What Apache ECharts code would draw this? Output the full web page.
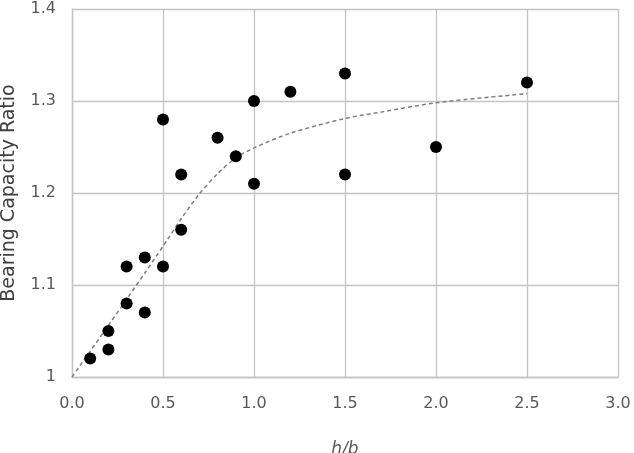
<!DOCTYPE html>
<html>
<head>
<meta charset="utf-8">
<script src="https://cdn.jsdelivr.net/npm/echarts@6/dist/echarts.min.js"></script>
<style>
  html, body { margin: 0; padding: 0; background: #fff; }
  #chart { width: 634px; height: 453px; }
</style>
</head>
<body>
<div id="chart"></div>
<script>
// measured points: h/b vs bearing capacity ratio
const hbValues = [0.1, 0.2, 0.2, 0.3, 0.3, 0.4, 0.4, 0.5, 0.5, 0.6, 0.6, 0.8, 0.9, 1.0, 1.0, 1.2, 1.5, 1.5, 2.0, 2.5];
const ratioValues = [1.02, 1.03, 1.05, 1.08, 1.12, 1.07, 1.13, 1.12, 1.28, 1.16, 1.22, 1.26, 1.24, 1.30, 1.21, 1.31, 1.33, 1.22, 1.25, 1.32];

// dashed trend line
const trendX = [0, 0.2, 0.4, 0.52, 0.6, 0.7, 0.8, 0.9, 1.0, 1.2, 1.5, 1.7, 2.0, 2.5];
const trendY = [1.0, 1.056, 1.113, 1.148, 1.172, 1.199, 1.221, 1.238, 1.249, 1.265, 1.281, 1.288, 1.298, 1.308];

const xTickLabels = ["0.0", "0.5", "1.0", "1.5", "2.0", "2.5", "3.0"];
const yTickLabels = ["1", "1.1", "1.2", "1.3", "1.4"];

const chart = echarts.init(document.getElementById("chart"));

const labelFont = {
  color: "#595959",
  fontFamily: "DejaVu Sans",
  fontSize: 16,
};
const gridLine = { color: "#c4c4c4", width: 1.3 };

chart.setOption({
  animation: false,
  grid: {
    left: 72, right: 16, top: 9, bottom: 76,
    containLabel: false,
    outerBoundsMode: "none",
  },
  xAxis: {
    type: "value",
    min: 0,
    max: 3,
    interval: 0.5,
    name: "h/b",
    nameLocation: "middle",
    nameGap: 64,
    nameTextStyle: {
      color: "#595959",
      fontFamily: "DejaVu Sans",
      fontSize: 17,
      fontStyle: "italic",
    },
    axisLine: { show: true, lineStyle: gridLine },
    axisTick: { show: false },
    axisLabel: Object.assign({}, labelFont, {
      margin: 19,
      formatter: (v) => xTickLabels[Math.round(v / 0.5)],
    }),
    splitLine: { show: true, lineStyle: gridLine },
  },
  yAxis: {
    type: "value",
    min: 1,
    max: 1.4,
    interval: 0.1,
    name: "Bearing Capacity Ratio",
    nameLocation: "middle",
    nameGap: 53,
    nameTextStyle: {
      color: "#404040",
      fontFamily: "DejaVu Sans",
      fontSize: 19,
    },
    axisLine: { show: true, lineStyle: gridLine },
    axisTick: { show: false },
    axisLabel: Object.assign({}, labelFont, {
      margin: 16,
      formatter: (v) => yTickLabels[Math.round((v - 1) / 0.1)],
    }),
    splitLine: { show: true, lineStyle: gridLine },
  },
  series: [
    {
      type: "line",
      data: trendX.map((x, i) => [x, trendY[i]]),
      smooth: 0.3,
      showSymbol: false,
      lineStyle: { color: "#7f7f7f", width: 1.5, type: [4, 3] },
      z: 2,
    },
    {
      type: "scatter",
      data: hbValues.map((x, i) => [x, ratioValues[i]]),
      symbol: "circle",
      symbolSize: 12,
      itemStyle: { color: "#000", opacity: 1 },
      z: 3,
    },
  ],
});
</script>
</body>
</html>
